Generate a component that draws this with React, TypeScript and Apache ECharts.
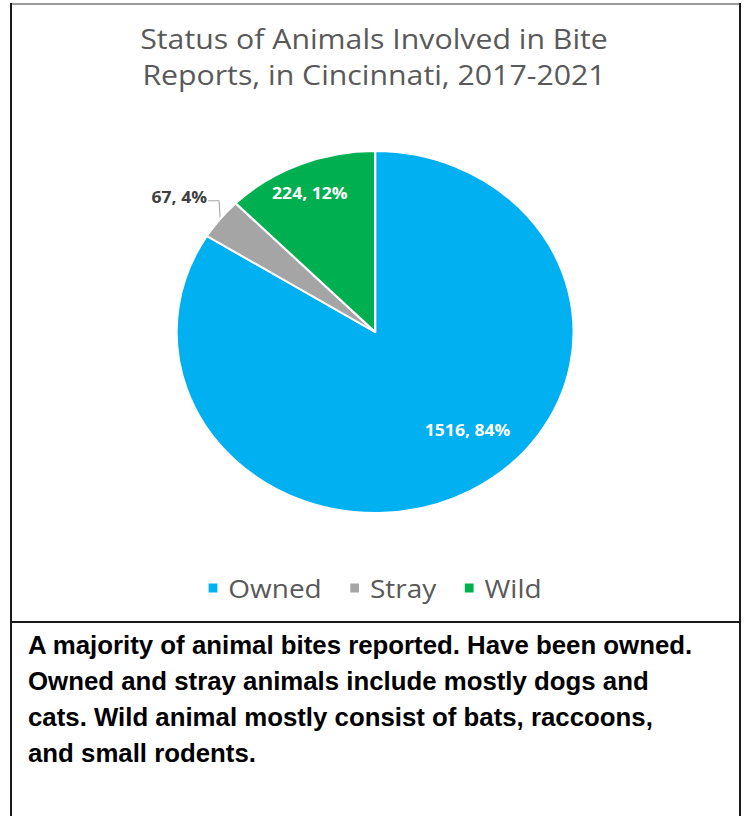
import React, { useEffect, useRef } from "react";
import * as echarts from "echarts";

const titleLines = ["Status of Animals Involved in Bite", "Reports, in Cincinnati, 2017-2021"];
const categories = ["Owned", "Stray", "Wild"];
const counts = [1516, 67, 224];
const colors = ["#00B0F0", "#A5A5A5", "#00B050"];
const noteLines = [
  "A majority of animal bites reported. Have been owned.",
  "Owned and stray animals include mostly dogs and",
  "cats. Wild animal mostly consist of bats, raccoons,",
  "and small rodents.",
];

const PAGE_W = 748;
const CHART_W = 682;
const CHART_H = 622;
const STRETCH = PAGE_W / CHART_W;

export default function App() {
  const ref = useRef<HTMLDivElement>(null);

  useEffect(() => {
    if (!ref.current) return;
    const chart = echarts.init(ref.current, undefined, { renderer: "svg" });
    const data = categories.map((name, i) => {
      const item: any = { name, value: counts[i], itemStyle: { color: colors[i] } };
      if (name === "Stray") {
        item.label = {
          position: "outside",
          color: "#404040",
        };
        item.labelLine = {
          show: true,
          length: 8,
          length2: 8,
          lineStyle: { color: "#A6A6A6", width: 1 },
        };
      }
      return item;
    });
    chart.setOption({
      animation: false,
      backgroundColor: "transparent",
      title: {
        text: titleLines.join("\n"),
        left: "center",
        top: 15,
        textStyle: {
          fontFamily: "Open Sans",
          fontSize: 27.6,
          fontWeight: "normal",
          color: "#595959",
          lineHeight: 36,
        },
      },
      legend: {
        data: categories,
        left: "center",
        top: 568,
        icon: "rect",
        itemWidth: 10,
        itemHeight: 11,
        itemGap: 24,
        textStyle: {
          fontFamily: "Open Sans",
          fontSize: 25.5,
          color: "#595959",
          lineHeight: 30,
          padding: [0, 0, 0, 4],
        },
      },
      series: [
        {
          type: "pie",
          center: [342, 332],
          radius: 181,
          startAngle: 90,
          clockwise: true,
          percentPrecision: 0,
          itemStyle: { borderColor: "#ffffff", borderWidth: 2 },
          label: {
            show: true,
            position: "inside",
            formatter: "{c}, {d}%",
            color: "#ffffff",
            fontFamily: "Open Sans",
            fontWeight: "bold",
            fontSize: 16,
          },
          labelLine: { show: false },
          emphasis: { disabled: true },
          labelLayout: (params: any) => {
            if (params.dataIndex === 0) return { dx: 39, dy: 16 };
            if (params.dataIndex === 2) return { dx: -24, dy: -53 };
            const pts = params.labelLinePoints;
            if (pts && pts[0]) {
              const p0 = pts[0];
              const ly = p0[1] - 18;
              return {
                x: p0[0] - 12,
                y: p0[1] - 22,
                align: "right",
                verticalAlign: "middle",
                labelLinePoints: [p0, [p0[0] - 1, ly], [p0[0] - 11, ly]],
              };
            }
            return {};
          },
          data,
        },
      ],
    });
    return () => chart.dispose();
  }, []);

  const line = (style: React.CSSProperties) => (
    <div style={{ position: "absolute", ...style }} />
  );

  return (
    <div
      style={{
        position: "absolute",
        left: 0,
        top: 0,
        width: PAGE_W,
        height: 816,
        background: "#ffffff",
        overflow: "hidden",
      }}
    >
      <div
        ref={ref}
        style={{
          position: "absolute",
          left: 0,
          top: 0,
          width: CHART_W,
          height: CHART_H,
          transform: `scaleX(${STRETCH})`,
          transformOrigin: "0 0",
        }}
      />
      {line({ left: 10, top: 3, width: 731, height: 2, background: "#9a9a9a" })}
      {line({ left: 10, top: 3, width: 2, height: 813, background: "#1a1a1a" })}
      {line({ left: 739, top: 3, width: 2, height: 813, background: "#1a1a1a" })}
      {line({ left: 10, top: 621, width: 731, height: 2, background: "#1a1a1a" })}
      <div
        style={{
          position: "absolute",
          left: 28,
          top: 627,
          fontFamily: "'Liberation Sans', Arial, sans-serif",
          fontWeight: "bold",
          fontSize: 25.8,
          lineHeight: "36px",
          color: "#000000",
        }}
      >
        {noteLines.map((t, i) => (
          <div key={i} style={{ whiteSpace: "nowrap" }}>
            {t}
          </div>
        ))}
      </div>
    </div>
  );
}
